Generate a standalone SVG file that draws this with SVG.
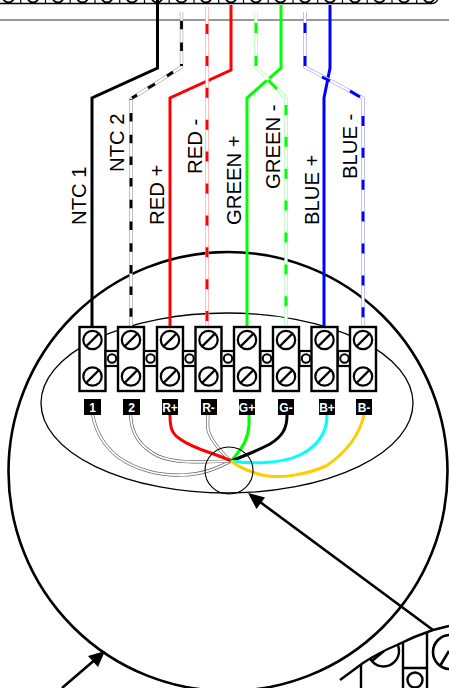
<svg xmlns="http://www.w3.org/2000/svg" width="449" height="688" viewBox="0 0 449 688">
<style>
.o{fill:none;stroke:#000}
.lbl{font-family:"Liberation Sans",Arial,sans-serif;font-size:20.3px;fill:#000}
.tag{font-family:"Liberation Sans",Arial,sans-serif;font-size:12px;font-weight:bold;fill:#fff;text-anchor:middle}
.w{fill:none;stroke-linejoin:miter}
.sol{stroke-width:3}
.edge{stroke-width:3.4}
.core{stroke:#fff;stroke-width:2.3;fill:none}
.tail{stroke-width:3.2;fill:none;stroke-linecap:round}
.tailcore{stroke:#fff;stroke-width:1.8;fill:none;stroke-linecap:round}
.d{stroke-width:2.8;fill:none}
.p32{stroke-dasharray:10 21.9}
.p22{stroke-dasharray:8.5 13.2}
</style>
<defs>
<g id="screw"><circle r="9.2" fill="#fff" stroke="#000" stroke-width="2.2"/><line x1="-6.5" y1="6.5" x2="6.5" y2="-6.5" stroke="#000" stroke-width="2.4"/></g>
<g id="term"><rect x="-13" y="0" width="26" height="64" fill="#fff" stroke="#000" stroke-width="2.4"/><use href="#screw" y="13"/><use href="#screw" y="49.5"/></g>
<g id="link"><rect x="-6.5" y="0" width="13" height="15" fill="#fff" stroke="#000" stroke-width="2.2"/><circle cy="7.5" r="4.2" fill="#fff" stroke="#000" stroke-width="2"/></g>
<clipPath id="below"><path d="M340 680L363 663Q380 652 397 645Q415 636 433 630L449 626V688H340Z"/></clipPath>
<g id="topc"><circle r="5.5" cy="-3" fill="none" stroke="#000" stroke-width="1.8"/></g>
</defs>

<g id="header-strip">
<rect x="-6" y="-20" width="444" height="23.5" rx="6" fill="#fff" stroke="#000" stroke-width="1.3"/>
<path class="o" stroke-width="1.2" d="M20.7 0V3M45.5 0V3M70.2 0V3M95 0V3M119.7 0V3M144.5 0V3M169.2 0V3M194 0V3M218.7 0V3M243.5 0V3M268.2 0V3M293 0V3M317.7 0V3M342.5 0V3M367.2 0V3M392 0V3M416.7 0V3"/>
<use href="#topc" x="8.5"/><use href="#topc" x="33"/><use href="#topc" x="58"/><use href="#topc" x="82.5"/><use href="#topc" x="107"/><use href="#topc" x="132"/><use href="#topc" x="157"/><use href="#topc" x="181.5"/><use href="#topc" x="206"/><use href="#topc" x="231"/><use href="#topc" x="256"/><use href="#topc" x="280.5"/><use href="#topc" x="305"/><use href="#topc" x="330"/><use href="#topc" x="355"/><use href="#topc" x="379.5"/><use href="#topc" x="404"/><use href="#topc" x="429"/>
<line x1="0" y1="20" x2="449" y2="20" stroke="#333" stroke-width="1"/>
</g>

<g id="lower-right-unit">
<g clip-path="url(#below)">
<circle cx="383.5" cy="651" r="15.5" class="o" stroke-width="2.4"/>
<line x1="372" y1="661" x2="384" y2="651" class="o" stroke-width="2.4"/>
<path class="o" stroke-width="2.4" d="M361 655V688M403 635V688M427 625V688M403 668H427"/>
<circle cx="415" cy="680" r="7.5" class="o" stroke-width="2.4"/>
<circle cx="450" cy="652" r="17" class="o" stroke-width="2.6"/>
<line x1="440" y1="666" x2="449" y2="651" class="o" stroke-width="2.6"/>
</g>
<path class="o" stroke-width="2.4" d="M340 680L363 663Q380 652 397 645Q415 636 433 630L449 626"/>
</g>

<g id="housing"><circle cx="228" cy="471.500" r="219.500" fill="none" stroke="#000" stroke-width="2.600"/></g>
<g id="inner-ellipse"><ellipse cx="227" cy="403" rx="186" ry="90" fill="none" stroke="#000" stroke-width="1.3"/></g>

<g id="connectors">
<path class="w sol" stroke="#000" d="M157.5 0V68L92 98V326"/>
<path class="w sol" stroke="#f00" d="M231 5V70L170 98V326"/>
<path class="w sol" stroke="#0f0" d="M281 5V68L247 98V326"/>
<path class="w sol" stroke="#00f" d="M330 5V68L324 98V326"/>

<path class="w edge" stroke="#999" d="M181.5 12V67L131 99V326"/><path class="core" d="M181.5 12V67L131 99V326"/>
<path class="d p22" stroke="#000" stroke-dashoffset="13" d="M181.5 12V66"/>
<path class="d" stroke="#000" d="M132 98L137 95M148 88L155 84M167 76L173 72"/>
<path class="d p22" stroke="#000" stroke-dashoffset="7.7" d="M131 99V326"/>

<path class="w edge" stroke="#f99" d="M207 7V326"/><path class="core" d="M207 7V326"/>
<path class="d p32" stroke="#f00" d="M207 24V326"/>

<path class="w edge" stroke="#9f9" d="M256 12V67L286 98V326"/><path class="core" d="M256 12V67L286 98V326"/>
<path class="d" stroke="#0f0" d="M256 23V33M256 56V66M268 80L277 89"/>
<path class="d p32" stroke="#0f0" stroke-dashoffset="21" d="M286 94V326"/>

<path class="w edge" stroke="#99f" d="M305 12V67L363 98V326"/><path class="core" d="M305 12V67L363 98V326"/>
<path class="d" stroke="#00f" d="M305 23V33M305 56V66M322 77L330 81M350 91L360 97"/>
<path class="d p32" stroke="#00f" stroke-dashoffset="14" d="M363 98V326"/>

<path class="tail" stroke="#666" d="M92.7 415C96 432 104 446 118 457C136 470 160 476 183 475C203 474 216 469 231 461"/>
<path class="tailcore" d="M92.7 415C96 432 104 446 118 457C136 470 160 476 183 475C203 474 216 469 231 461"/>
<path class="tail" stroke="#666" d="M130.7 415C131 433 140 447 158 456C176 464 205 462 231 461"/>
<path class="tailcore" d="M130.7 415C131 433 140 447 158 456C176 464 205 462 231 461"/>
<path class="tail" stroke="#666" d="M208 415C207 430 208 432 212 439C217 447 224 455 231 461"/>
<path class="tailcore" d="M208 415C207 430 208 432 212 439C217 447 224 455 231 461"/>
<path class="w sol" stroke="#f00" d="M170 415C170 428 172 434 180 439C195 450 215 453 231 461"/>
<path class="w sol" stroke="#0f0" d="M249 415C250 430 247 441 240 450C237 454 234 458 231 461"/>
<path class="w sol" stroke="#000" d="M287 415C287 428 283 436 270 444C257 451 244 456 231 461"/>
<path class="w sol" stroke="#0ff" d="M327 415C327 432 318 446 300 455C280 464 250 464 231 461"/>
<path class="w sol" stroke="#fc0" d="M364 415C360 432 350 450 326 466C305 475 280 479 262 475C250 472 240 468 231 461"/>

<line x1="433" y1="630" x2="256" y2="499" stroke="#000" stroke-width="2.6"/>
<polygon points="248,493 265,497.500 256.500,509" fill="#000"/>
<line x1="62" y1="688" x2="97" y2="658" stroke="#000" stroke-width="2.6"/>
<polygon points="105,651 98,667 88,656" fill="#000"/>
</g>

<g id="gland"><ellipse cx="229" cy="470.500" rx="24" ry="23.500" fill="none" stroke="#000" stroke-width="1.100"/></g>

<g id="terminals">
<g id="t1"><use href="#term" x="92.500" y="327"/><rect x="84" y="399" width="17" height="16" fill="#000"/><text class="tag" x="92.500" y="411.500">1</text></g>
<g id="l1"><use href="#link" x="112" y="351"/></g>
<g id="t2"><use href="#term" x="131" y="327"/><rect x="123" y="399" width="17" height="16" fill="#000"/><text class="tag" x="131.500" y="411.500">2</text></g>
<g id="l2"><use href="#link" x="150.500" y="351"/></g>
<g id="t3"><use href="#term" x="170" y="327"/><rect x="162" y="399" width="16" height="16" fill="#000"/><text class="tag" x="170" y="411.500">R+</text></g>
<g id="l3"><use href="#link" x="189.500" y="351"/></g>
<g id="t4"><use href="#term" x="208.500" y="327"/><rect x="201" y="399" width="16" height="16" fill="#000"/><text class="tag" x="208.500" y="411.500">R-</text></g>
<g id="l4"><use href="#link" x="228" y="351"/></g>
<g id="t5"><use href="#term" x="247" y="327"/><rect x="239" y="399" width="16" height="16" fill="#000"/><text class="tag" x="247" y="411.500">G+</text></g>
<g id="l5"><use href="#link" x="267" y="351"/></g>
<g id="t6"><use href="#term" x="286" y="327"/><rect x="278" y="399" width="16" height="16" fill="#000"/><text class="tag" x="286" y="411.500">G-</text></g>
<g id="l6"><use href="#link" x="306" y="351"/></g>
<g id="t7"><use href="#term" x="324.500" y="327"/><rect x="319" y="399" width="16" height="16" fill="#000"/><text class="tag" x="327" y="411.500">B+</text></g>
<g id="l7"><use href="#link" x="344.500" y="351"/></g>
<g id="t8"><use href="#term" x="363" y="327"/><rect x="356" y="399" width="16" height="16" fill="#000"/><text class="tag" x="364" y="411.500">B-</text></g>
</g>

<g id="labels">
<text class="lbl" transform="translate(86 225) rotate(-90)">NTC 1</text>
<text class="lbl" transform="translate(123.500 172) rotate(-90)">NTC 2</text>
<text class="lbl" transform="translate(164 225) rotate(-90)">RED +</text>
<text class="lbl" transform="translate(201.700 174) rotate(-90)">RED -</text>
<text class="lbl" transform="translate(241 225) rotate(-90)">GREEN +</text>
<text class="lbl" transform="translate(280 189) rotate(-90)">GREEN -</text>
<text class="lbl" transform="translate(319 225) rotate(-90)">BLUE +</text>
<text class="lbl" transform="translate(357 179) rotate(-90)">BLUE -</text>
</g>
</svg>
